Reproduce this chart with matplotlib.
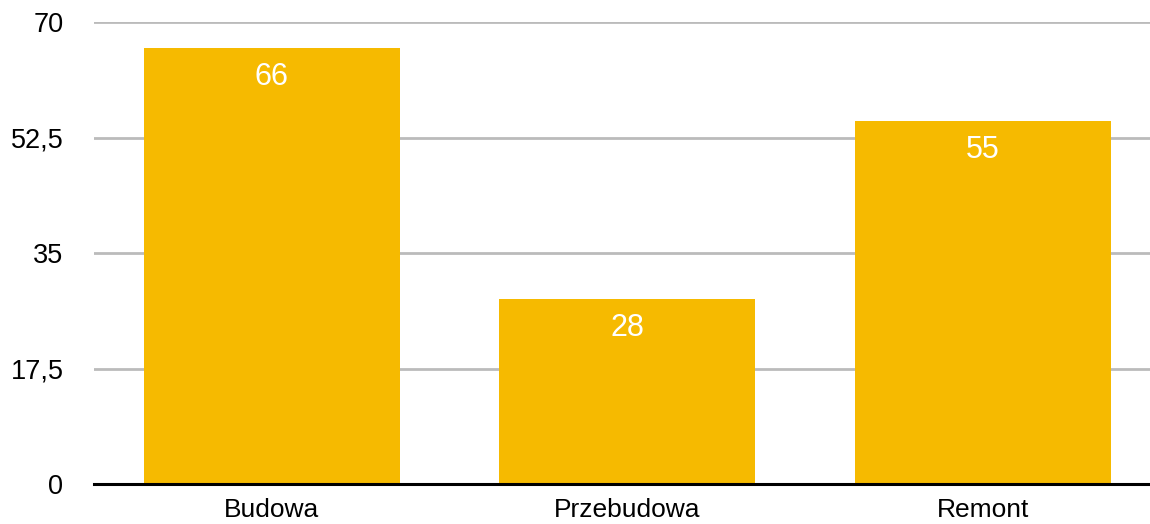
import matplotlib
matplotlib.use('Agg')
from matplotlib import pyplot as plt

# data
categories = ['Budowa', 'Przebudowa', 'Remont']
values = [66, 28, 55]
y_ticks = [0, 17.5, 35, 52.5, 70]
y_tick_labels = ['0', '17,5', '35', '52,5', '70']

bar_color = '#F6BA00'
plt.rcParams['font.family'] = ['Liberation Sans', 'DejaVu Sans']

fig = plt.figure(figsize=(11.5, 5.24), dpi=100)
ax = fig.add_axes([94 / 1150, 1 - 484 / 524, 1 - 94 / 1150, (484 - 22) / 524])

xs = list(range(len(categories)))
bars = ax.bar(xs, values, width=0.72, color=bar_color, zorder=3)

for x, v in zip(xs, values):
    ax.annotate(str(v), (x, v), xytext=(0, -29), textcoords='offset pixels',
                ha='center', va='center', color='white', fontsize=22, zorder=4)

ax.set_ylim(0, 70)
ax.set_xlim(-0.5, 2.47)
ax.set_yticks(y_ticks)
ax.set_yticklabels(y_tick_labels)
ax.set_xticks(xs)
ax.set_xticklabels(categories)

ax.yaxis.grid(True, color='#BBBBBB', linewidth=2, zorder=0)
ax.axhline(0, color='black', linewidth=2.2, zorder=5, clip_on=False)

for side in ['top', 'right', 'left', 'bottom']:
    ax.spines[side].set_visible(False)
ax.tick_params(axis='y', length=0, pad=22, labelsize=19.5)
ax.tick_params(axis='x', length=0, pad=10, labelsize=19)

fig.savefig('out.png', dpi=100)
